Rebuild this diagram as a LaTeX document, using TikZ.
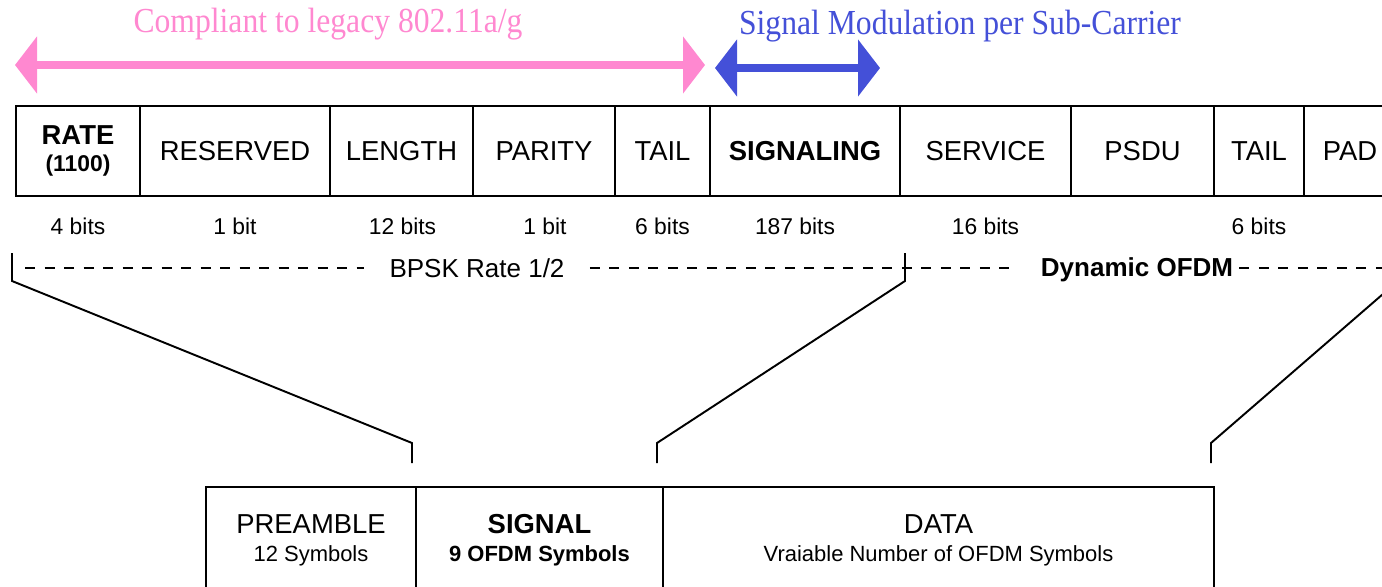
\documentclass[tikz,border=0pt]{standalone}
\usepackage{fontspec}
\setmainfont{Liberation Sans}
\newfontfamily\timesfont[FakeStretch=0.9]{Liberation Serif}
\usetikzlibrary{calc, arrows.meta, positioning}

\definecolor{legpink}{RGB}{255,136,208}
\definecolor{sigblue}{RGB}{68,80,216}

\newcommand{\fieldfont}{\fontsize{15.6}{18}\selectfont}
\newcommand{\bitsfont}{\fontsize{13}{15}\selectfont}
\newcommand{\subfont}{\fontsize{12.5}{15}\selectfont}
\newcommand{\modfont}{\fontsize{14.8}{17}\selectfont}
\newcommand{\headfont}{\timesfont\fontsize{20}{23}\selectfont}

\tikzset{
    field/.style={draw, line width=0.8pt, minimum width=#1*0.2mm, minimum height=18mm,
        inner sep=0pt, outer sep=0pt, font=\fieldfont, align=center},
    block/.style={draw, line width=0.8pt, minimum width=#1*0.2mm, minimum height=21.2mm,
        inner sep=0pt, outer sep=0pt, font=\fieldfont, align=center},
    bits/.style={font=\bitsfont, inner sep=0pt},
    span/.style={line width=1.6mm, {Triangle[length=4.4mm, width=11.2mm]}-{Triangle[length=4.4mm, width=11.2mm]}},
    dashline/.style={line width=0.7pt, dash pattern=on 2mm off 1.9mm},
    bracket/.style={line width=1.1pt, line join=miter}
}

\begin{document}
\begin{tikzpicture}[x=0.2mm, y=-0.2mm]
    \useasboundingbox (0,0) rectangle (1382,587);

    % spans above the frame
    \coordinate (legL) at (15,65);
    \coordinate (legR) at (705,65);
    \draw[span, legpink] (legL) -- (legR);
    \node[font=\headfont, text=legpink, anchor=base, inner sep=0pt] (legtxt) at (328,32.5) {Compliant to legacy 802.11a/g};

    \coordinate (sigL) at (715,68);
    \coordinate (sigR) at (880,68);
    \draw[span, sigblue] (sigL) -- (sigR);
    \node[font=\headfont, text=sigblue, anchor=base, inner sep=0pt] (sigtxt) at (960,35) {Signal Modulation per Sub-Carrier};

    % PLCP header fields
    \node[field=124, anchor=north west] (rate) at (16,106) {\textbf{RATE}\\[-3pt]{\bitsfont\bfseries (1100)}};
    \node[field=190, right=0pt of rate] (reserved) {RESERVED};
    \node[field=143, right=0pt of reserved] (length) {LENGTH};
    \node[field=142, right=0pt of length] (parity) {PARITY};
    \node[field=95, right=0pt of parity] (tail) {TAIL};
    \node[field=190, right=0pt of tail] (signaling) {\textbf{SIGNALING}};
    \node[field=171, right=0pt of signaling] (service) {SERVICE};
    \node[field=143, right=0pt of service] (psdu) {PSDU};
    \node[field=90, right=0pt of psdu] (tailb) {TAIL};
    \node[field=92, right=0pt of tailb] (pad) {PAD};

    \node[bits] (b-rate) at ($(rate.south)+(0,30)$) {4 bits};
    \node[bits] (b-reserved) at ($(reserved.south)+(0,30)$) {1 bit};
    \node[bits] (b-length) at ($(length.south)+(1,30)$) {12 bits};
    \node[bits] (b-parity) at ($(parity.south)+(1,30)$) {1 bit};
    \node[bits] (b-tail) at ($(tail.south)+(0,30)$) {6 bits};
    \node[bits] (b-signaling) at ($(signaling.south)+(-10,30)$) {187 bits};
    \node[bits] (b-service) at ($(service.south)+(0,30)$) {16 bits};
    \node[bits] (b-tailb) at ($(tailb.south)+(0,30)$) {6 bits};

    % modulation line
    \coordinate (dashL) at (25,268);
    \coordinate (dashR) at (1382,268);
    \node[font=\modfont, inner sep=0pt] (bpsk) at (477,268) {BPSK Rate 1/2};
    \node[font=\modfont\bfseries, inner sep=0pt] (dyn) at (1137,270) {Dynamic OFDM};
    \draw[dashline] (dashL) -- ([xshift=-5mm]bpsk.west);
    \draw[dashline] ([xshift=5mm]bpsk.east) -- ([xshift=-6mm]dyn.west |- dashL);
    \draw[dashline] ([xshift=1.2mm]dyn.east |- dashL) -- (dashR);

    % PPDU
    \node[block=210, anchor=north west] (pre) at (206,487) {PREAMBLE\\[-2pt]{\subfont 12 Symbols}};
    \node[block=247, right=0pt of pre] (sig) {\textbf{SIGNAL}\\[-2pt]{\subfont\bfseries 9 OFDM Symbols}};
    \node[block=551, right=0pt of sig] (data) {DATA\\[-2pt]{\subfont Vraiable Number of OFDM Symbols}};

    \draw[bracket] ($(rate.south west)+(-4,57)$) -- ++(0,28) -- ($(pre.north east)+(-4,-44)$) -- ++(0,20);
    \draw[bracket] ($(service.south west)+(5,57)$) -- ++(0,28) -- ($(sig.north east)+(-6,-44)$) -- ++(0,20);
    \draw[bracket] ($(pad.south east)+(2,57)$) -- ++(0,28) -- ($(data.north east)+(-3,-44)$) -- ++(0,20);
\end{tikzpicture}
\end{document}
